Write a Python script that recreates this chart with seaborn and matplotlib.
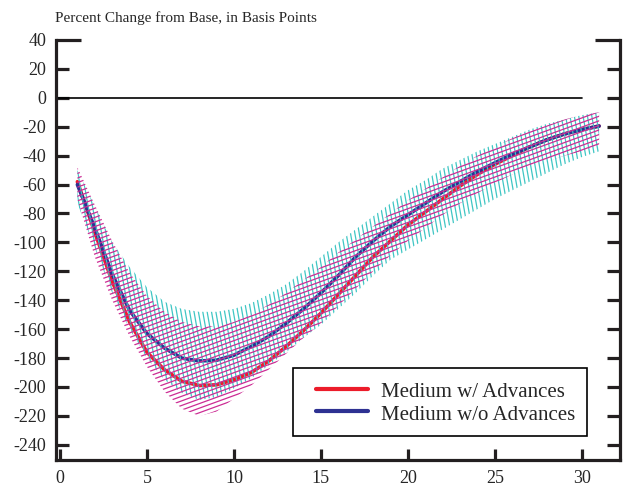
import matplotlib
matplotlib.use('Agg')
import matplotlib.pyplot as plt
from matplotlib.collections import LineCollection
from matplotlib.lines import Line2D
from matplotlib.transforms import IdentityTransform
from matplotlib.legend_handler import HandlerLine2D
import seaborn as sns
import numpy as np
import pandas as pd

# values (basis points, periods 1..31)
periods = list(range(1, 32))

with_adv = [-58, -93, -127, -155, -176, -188, -196, -199, -198.5, -195, -190, -182, -172, -161, -149,
            -136, -123, -110, -99, -88, -79, -70, -61, -53, -46, -40, -34, -29, -25, -22, -19.5]
without_adv = [-60, -90, -122, -147, -163, -173, -180, -182, -181.5, -178, -172, -165, -156, -146, -135,
               -123, -110, -99, -89, -81, -73, -65, -58, -51, -45, -39, -34, -29, -25, -22, -19.5]

with_adv_hi = [-48, -74, -99, -121, -137, -148, -155, -158, -158, -155, -150, -143, -135, -126, -117,
               -107, -98, -89, -80, -71, -63, -55, -47, -40, -34, -28, -23, -19, -15, -12, -10]
with_adv_lo = [-70, -110, -140, -165, -186, -203, -215, -220, -217, -208, -199, -188, -177, -166, -156,
               -144, -132, -120, -109, -99, -90, -81, -73, -66, -59, -53, -48, -44, -40, -37, -34]
without_adv_hi = [-50, -75, -100, -117, -131, -141, -146, -148, -148, -146, -142, -136, -129, -120, -110,
                  -100, -91, -82, -73, -64, -57, -49, -43, -37, -32, -27, -22, -18, -15, -12, -10]
without_adv_lo = [-73, -104, -135, -160, -180, -195, -204, -209, -207, -201, -194, -185, -176, -166, -157,
                  -146, -135, -123, -112, -105, -98, -91, -84, -77, -70, -64, -58, -52, -46, -41, -37]

zero_x = [-0.23, 30]
zero_y = [0, 0]

labels = ['Medium w/ Advances', 'Medium w/o Advances']
xticks = [0, 5, 10, 15, 20, 25, 30]
yticks = list(range(-240, 41, 20))

RED = '#ec1c2a'
BLUE = '#2e3192'
CYAN = '#3fc6c4'
MAGENTA = '#cc2c94'


def hatch_band(ax, band, angle, spacing, color, lw, z):
    # parallel strokes in pixel space, clipped to the band polygon
    bb = ax.bbox
    cx, cy = (bb.x0 + bb.x1) / 2, (bb.y0 + bb.y1) / 2
    r = np.hypot(bb.width, bb.height)
    t = np.deg2rad(angle)
    d = np.array([np.cos(t), np.sin(t)])
    n = np.array([-d[1], d[0]])
    segs = []
    for o in np.arange(-r, r, spacing):
        p = np.array([cx, cy]) + o * n
        segs.append([tuple(p - r * d), tuple(p + r * d)])
    lc = LineCollection(segs, colors=color, linewidths=lw, transform=IdentityTransform(), zorder=z)
    lc.set_clip_path(band.get_paths()[0], band.get_transform())
    ax.add_collection(lc, autolim=False)


def main():
    sns.set_style('ticks')
    plt.rcParams['font.family'] = ['Liberation Serif', 'DejaVu Serif']
    plt.rcParams['axes.unicode_minus'] = False

    fig = plt.figure(figsize=(6.24, 4.87), dpi=100)
    ax = fig.add_axes([56 / 624, 27 / 487, 564 / 624, 420 / 487])
    ax.set_xlim(-0.23, 32.2)
    ax.set_ylim(-250.5, 40)

    ax.plot(zero_x, zero_y, color='black', linewidth=1.2)

    df = pd.DataFrame({
        'period': periods * 2,
        'bp': with_adv + without_adv,
        'scenario': [labels[0]] * len(periods) + [labels[1]] * len(periods),
    })
    sns.lineplot(data=df, x='period', y='bp', hue='scenario', hue_order=labels,
                 palette={labels[0]: RED, labels[1]: BLUE}, linewidth=2.6, legend=False, ax=ax)

    # bands drawn over the lines, as in the original
    band_wo = ax.fill_between(periods, without_adv_lo, without_adv_hi, facecolor='none', edgecolor='none', linewidth=0)
    band_w = ax.fill_between(periods, with_adv_lo, with_adv_hi, facecolor='none', edgecolor='none', linewidth=0)
    hatch_band(ax, band_wo, 100, 4.3, CYAN, 0.9, 3)
    hatch_band(ax, band_w, 20, 4.3, MAGENTA, 0.9, 3.1)

    handles = [Line2D([], [], color=RED, linewidth=3), Line2D([], [], color=BLUE, linewidth=3)]
    leg = ax.legend(handles, labels, loc='lower right', bbox_to_anchor=(0.941, 0.057), borderaxespad=0,
                    fontsize=15, frameon=True, fancybox=False, framealpha=1, edgecolor='black',
                    handlelength=3.06, handleheight=1.15, handletextpad=0.63, borderpad=0.55,
                    labelspacing=0.0, handler_map={Line2D: HandlerLine2D(xpad=0.56)})
    leg.get_frame().set_linewidth(1.2)
    leg.set_zorder(10)

    ax.set_xticks(xticks)
    ax.set_yticks(yticks)
    ax.set_xlabel('')
    ax.set_ylabel('')
    ax.spines['top'].set_visible(False)
    for s in ['left', 'right', 'bottom']:
        ax.spines[s].set_linewidth(2.3)
        ax.spines[s].set_color('#231f20')
    ax.tick_params(axis='y', direction='in', length=9.5, width=2.3, color='#231f20',
                   left=True, right=True, labelright=False, labelsize=13, pad=7)
    ax.tick_params(axis='x', direction='in', length=8, width=2.3, color='#231f20',
                   top=False, labelsize=13, pad=7)
    top_tick = ax.yaxis.get_major_ticks()[-1]
    top_tick.tick1line.set_markersize(18)
    top_tick.tick2line.set_markersize(18)

    ax.set_title('Percent Change from Base, in Basis Points', loc='left', fontsize=11, pad=13, x=-0.002)

    fig.savefig('out.png', dpi=100)
    plt.close()


if __name__ == '__main__':
    main()
